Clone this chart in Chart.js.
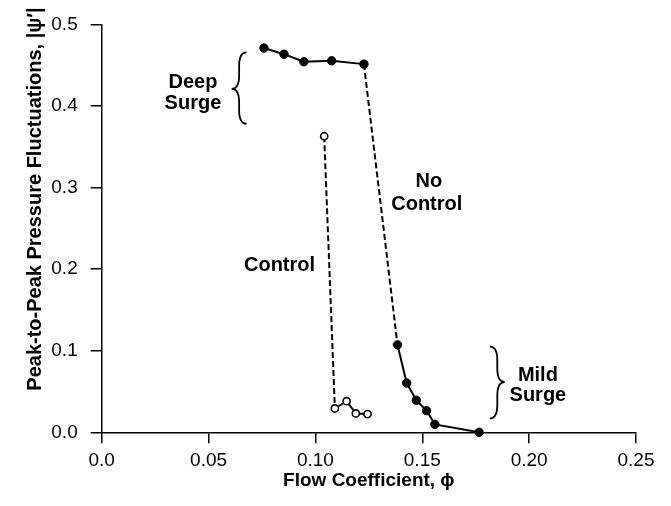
<!DOCTYPE html>
<html>
<head>
<meta charset="utf-8">
<script src="https://cdn.jsdelivr.net/npm/chart.js@4.4.1/dist/chart.umd.min.js"></script>
<style>
  html, body { margin: 0; padding: 0; background: #fff; }
  #wrap { width: 671px; height: 506px; }
</style>
</head>
<body>
<div id="wrap"><canvas id="surgeChart"></canvas></div>
<script>
// Surge amplitude vs flow coefficient, with and without control

/* ── Data ─────────────────────────────────────────────── */
const noControlPhi = [0.0759, 0.0853, 0.0946, 0.1076, 0.1227, 0.1384, 0.1427, 0.1472, 0.1520, 0.1559, 0.1766];
const noControlPsi = [0.471, 0.4635, 0.4542, 0.4554, 0.4513, 0.1072, 0.0604, 0.0393, 0.0265, 0.0097, 0.0];
const controlPhi = [0.1041, 0.1091, 0.1146, 0.1189, 0.1244];
const controlPsi = [0.3629, 0.0292, 0.0381, 0.0231, 0.0223];

const xTickValues = [0, 0.05, 0.10, 0.15, 0.20, 0.25];
const xTickLabels = ['0.0', '0.05', '0.10', '0.15', '0.20', '0.25'];
const yTickValues = [0, 0.1, 0.2, 0.3, 0.4, 0.5];
const yTickLabels = ['0.0', '0.1', '0.2', '0.3', '0.4', '0.5'];

// segment (by start index) drawn dashed: the jump out of / into surge
const noControlJump = 4;
const controlJump = 0;

/* ── Styling ───────────────────────────────────────────── */
const INK = '#000';
const FONT = "'Liberation Sans', Arial, Helvetica, sans-serif";
const DASH = [6, 3];

const toPoints = (xs, ys) => xs.map((x, i) => ({ x: x, y: ys[i] }));

// annotation positions in data units
const labels = [
    { text: 'Deep', x: 0.0427, y: 0.429 },
    { text: 'Surge', x: 0.0427, y: 0.403 },
    { text: 'Control', x: 0.0832, y: 0.2039 },
    { text: 'No', x: 0.1531, y: 0.3073 },
    { text: 'Control', x: 0.1521, y: 0.2793 },
    { text: 'Mild', x: 0.2041, y: 0.0698 },
    { text: 'Surge', x: 0.2041, y: 0.0454 },
];
const braces = [
    { xOpen: 0.0678, xTip: 0.0608, yTop: 0.4656, yMid: 0.4209, yBot: 0.3782 },
    { xOpen: 0.1816, xTip: 0.1886, yTop: 0.1051, yMid: 0.0616, yBot: 0.0170 },
];

function drawBrace(ctx, xOpen, xTip, yTop, yMid, yBot) {
    const xm = (xOpen + xTip) / 2;
    const r = Math.abs(xOpen - xTip) * 0.9;
    ctx.beginPath();
    ctx.moveTo(xOpen, yTop);
    ctx.quadraticCurveTo(xm, yTop, xm, yTop + r);
    ctx.lineTo(xm, yMid - r);
    ctx.quadraticCurveTo(xm, yMid, xTip, yMid);
    ctx.quadraticCurveTo(xm, yMid, xm, yMid + r);
    ctx.lineTo(xm, yBot - r);
    ctx.quadraticCurveTo(xm, yBot, xOpen, yBot);
    ctx.stroke();
}

const annotate = {
    id: 'annotate',
    afterDraw(chart) {
        const { ctx, scales: { x, y } } = chart;
        ctx.save();
        ctx.fillStyle = INK;
        ctx.strokeStyle = INK;
        ctx.font = 'bold 20px ' + FONT;
        ctx.textAlign = 'center';
        ctx.textBaseline = 'middle';
        labels.forEach(l => ctx.fillText(l.text, x.getPixelForValue(l.x), y.getPixelForValue(l.y)));

        ctx.lineWidth = 1.8;
        braces.forEach(b => drawBrace(ctx,
            x.getPixelForValue(b.xOpen), x.getPixelForValue(b.xTip),
            y.getPixelForValue(b.yTop), y.getPixelForValue(b.yMid), y.getPixelForValue(b.yBot)));

        // y-axis title (sits higher than centred in the original)
        ctx.translate(35, 199);
        ctx.rotate(-Math.PI / 2);
        ctx.font = 'bold 20px ' + FONT;
        ctx.fillText('Peak-to-Peak Pressure Fluctuations, |\u03C8\u2032|', 0, 0);
        ctx.restore();
    }
};

const axisGrid = {
    display: true,
    drawOnChartArea: false,
    drawTicks: true,
    tickLength: 11,
    color: INK,
    lineWidth: 1.5,
};

new Chart(document.getElementById('surgeChart'), {
    type: 'scatter',
    data: {
        datasets: [
            {
                label: 'No Control',
                data: toPoints(noControlPhi, noControlPsi),
                showLine: true,
                borderColor: INK,
                borderWidth: 2,
                pointRadius: 4.2,
                pointBackgroundColor: INK,
                pointBorderColor: INK,
                pointBorderWidth: 1,
                segment: { borderDash: c => c.p0DataIndex === noControlJump ? DASH : undefined },
                clip: false,
            },
            {
                label: 'Control',
                data: toPoints(controlPhi, controlPsi),
                showLine: true,
                borderColor: INK,
                borderWidth: 2,
                pointRadius: 3.6,
                pointBackgroundColor: '#fff',
                pointBorderColor: INK,
                pointBorderWidth: 1.6,
                segment: { borderDash: c => c.p0DataIndex === controlJump ? DASH : undefined },
                clip: false,
            }
        ]
    },
    options: {
        responsive: true,
        maintainAspectRatio: false,
        animation: false,
        layout: { padding: { top: 7.5, right: 35, bottom: 0, left: 0 } },
        plugins: {
            legend: { display: false },
            tooltip: { enabled: false },
        },
        scales: {
            x: {
                type: 'linear',
                min: 0,
                max: 0.25,
                afterBuildTicks: s => { s.ticks = xTickValues.map(v => ({ value: v })); },
                afterFit: s => { s.height = 73.7; },
                ticks: {
                    color: INK,
                    padding: 6,
                    maxRotation: 0,
                    font: { family: FONT, size: 19 },
                    callback: (v, i) => xTickLabels[i],
                },
                grid: axisGrid,
                border: { display: true, color: INK, width: 1.5 },
                title: {
                    display: true,
                    text: 'Flow Coefficient, \u03D5',
                    color: INK,
                    font: { family: FONT, size: 19, weight: 'bold' },
                    padding: { top: 4, bottom: 14 },
                },
            },
            y: {
                type: 'linear',
                min: 0,
                max: 0.5,
                afterBuildTicks: s => { s.ticks = yTickValues.map(v => ({ value: v })); },
                afterFit: s => { s.width = 101.7; },
                ticks: {
                    color: INK,
                    padding: 13,
                    font: { family: FONT, size: 19 },
                    callback: (v, i) => yTickLabels[i],
                },
                grid: axisGrid,
                border: { display: true, color: INK, width: 1.5 },
            }
        }
    },
    plugins: [annotate]
});
</script>
</body>
</html>
